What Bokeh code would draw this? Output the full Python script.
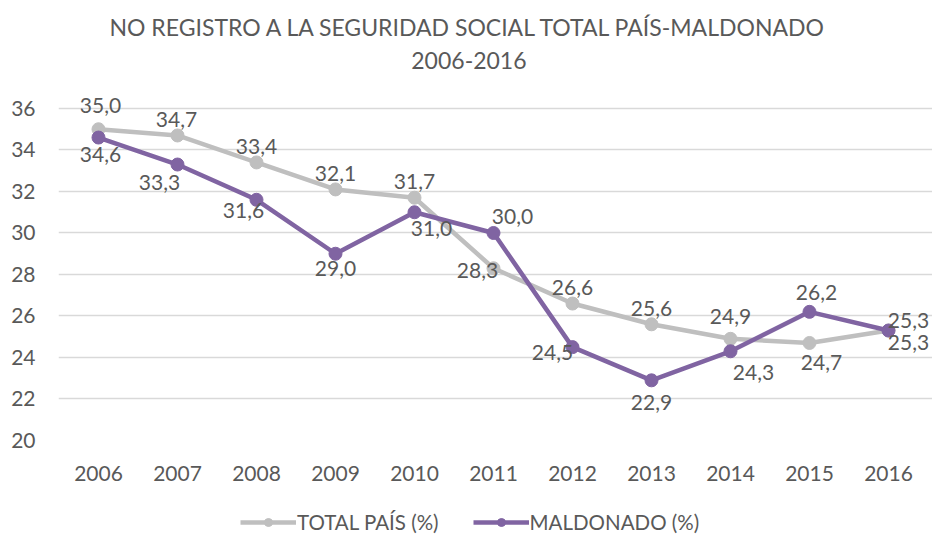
from bokeh.plotting import figure
from bokeh.layouts import column
from bokeh.models import (ColumnDataSource, LabelSet, Legend, LegendItem, Title,
                          FixedTicker, Range1d)
from bokeh.core.properties import value
from bokeh.embed import file_html
from bokeh.resources import INLINE

years = [2006, 2007, 2008, 2009, 2010, 2011, 2012, 2013, 2014, 2015, 2016]
total_pais = [35.0, 34.7, 33.4, 32.1, 31.7, 28.3, 26.6, 25.6, 24.9, 24.7, 25.3]
maldonado = [34.6, 33.3, 31.6, 29.0, 31.0, 30.0, 24.5, 22.9, 24.3, 26.2, 25.3]
y_ticks = [20, 22, 24, 26, 28, 30, 32, 34, 36]

# label offsets (screen px, y up)
total_dx = [2, -1, 0, 0, 0, -16, 0, 0, 0, 12, 20]
total_dy = [24, 16, 16, 16, 16, -2, 16, 16, 22, -20, -12]
mald_dx = [2, -18, -13, 0, 17, 19, -20, 0, 23, 7, 20]
mald_dy = [-17, -18, -11, -15, -16, 16, -5, -22, -21, 19, 10]

FONT = "Lato"
TXT = "#595959"
GRAY = "#BFBFBF"
PURPLE = "#8064A2"

fmt = lambda v: f"{v:.1f}".replace(".", ",")

src_t = ColumnDataSource(dict(x=years, y=total_pais, lab=[fmt(v) for v in total_pais],
                              dx=total_dx, dy=total_dy))
src_m = ColumnDataSource(dict(x=years, y=maldonado, lab=[fmt(v) for v in maldonado],
                              dx=mald_dx, dy=mald_dy))

p = figure(width=932, height=490, output_backend="svg", toolbar_location=None,
           x_range=Range1d(2005.4937, 2016.557), y_range=Range1d(20, 36.578),
           min_border_left=58, min_border_right=0, min_border_top=96,
           min_border_bottom=50)
p.outline_line_color = None
p.background_fill_color = "white"

p.title.text = "NO REGISTRO A LA SEGURIDAD SOCIAL TOTAL PAÍS-MALDONADO\n2006-2016"
p.title.align = "left"
p.title.text_align = "center"
p.title.text_font = FONT
p.title.text_font_size = "23px"
p.title.text_font_style = "normal"
p.title.text_line_height = 1.2
p.title.text_color = TXT
p.title.standoff = 10
p.title.offset = 51
# spacer between title and plot area
p.add_layout(Title(text=" ", text_font_size="1px", standoff=14), "above")

lt = p.line("x", "y", source=src_t, line_color=GRAY, line_width=4.5)
st = p.scatter("x", "y", source=src_t, size=13, fill_color=GRAY, line_color=GRAY)
lm = p.line("x", "y", source=src_m, line_color=PURPLE, line_width=4.5)
sm = p.scatter("x", "y", source=src_m, size=13, fill_color=PURPLE, line_color=PURPLE)

for src in (src_t, src_m):
    p.add_layout(LabelSet(x="x", y="y", text="lab", source=src, x_offset="dx", y_offset="dy",
                          text_align="center", text_baseline="middle",
                          text_font=value(FONT), text_font_size="21px", text_color=TXT))

p.xaxis.ticker = FixedTicker(ticks=years)
p.yaxis.ticker = FixedTicker(ticks=y_ticks)
for ax in (p.xaxis, p.yaxis):
    ax.axis_line_color = None
    ax.major_tick_line_color = None
    ax.minor_tick_line_color = None
    ax.major_label_text_font = FONT
    ax.major_label_text_font_size = "21px"
    ax.major_label_text_color = TXT
p.yaxis.major_label_standoff = 17
p.xaxis.major_label_standoff = 19
p.xgrid.grid_line_color = None
p.ygrid.grid_line_color = "#D9D9D9"
p.ygrid.grid_line_width = 1.5

# legend strip below the chart (series drawn outside its ranges, only legend shows)
pl = figure(width=932, height=45, output_backend="svg", toolbar_location=None,
            x_range=Range1d(0, 1), y_range=Range1d(0, 1),
            x_axis_location=None, y_axis_location=None, min_border=0)
pl.outline_line_color = None
pl.grid.visible = False
gl = pl.line("x", "y", source=src_t, line_color=GRAY, line_width=4.5)
gs = pl.scatter("x", "y", source=src_t, size=13, fill_color=GRAY, line_color=GRAY)
pml = pl.line("x", "y", source=src_m, line_color=PURPLE, line_width=4.5)
pms = pl.scatter("x", "y", source=src_m, size=13, fill_color=PURPLE, line_color=PURPLE)
legend = Legend(items=[LegendItem(label="TOTAL PAÍS (%)", renderers=[gl, gs]),
                       LegendItem(label="MALDONADO (%)", renderers=[pml, pms])],
                orientation="horizontal", location=(182, 1), glyph_width=56,
                label_text_font=FONT, label_text_font_size="20.5px", label_text_color=TXT,
                border_line_color=None, background_fill_alpha=0, spacing=34, margin=0,
                padding=4, label_standoff=1)
pl.add_layout(legend, "center")

page = column(p, pl, spacing=0)
open("out.html", "w").write(file_html(page, INLINE))
